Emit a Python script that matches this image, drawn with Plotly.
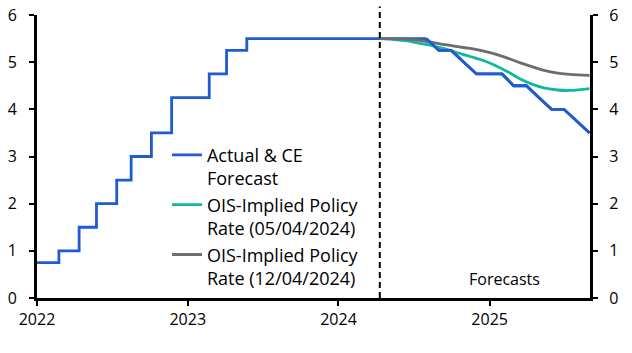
import plotly.graph_objects as go

# Actual policy rate (history, step changes)
hist_dates = ["2022-01-01", "2022-02-23", "2022-04-13", "2022-05-25", "2022-07-13",
              "2022-08-17", "2022-10-05", "2022-11-23", "2023-02-22", "2023-04-05",
              "2023-05-24", "2024-07-31"]
hist_vals = [0.75, 1.0, 1.5, 2.0, 2.5, 3.0, 3.5, 4.25, 4.75, 5.25, 5.5, 5.5]

# CE forecast (monthly)
fc_dates = ["2024-07-31", "2024-08-31", "2024-09-30", "2024-10-31", "2024-11-30",
            "2024-12-31", "2025-01-31", "2025-02-28", "2025-03-31", "2025-04-30",
            "2025-05-31", "2025-06-30", "2025-07-31", "2025-08-31"]
fc_vals = [5.5, 5.25, 5.25, 5.0, 4.75, 4.75, 4.75, 4.5, 4.5, 4.25, 4.0, 4.0, 3.75, 3.5]

# OIS-implied policy rates
ois_dates = ["2024-04-10", "2024-05-15", "2024-06-15", "2024-07-15", "2024-08-15",
             "2024-09-15", "2024-10-15", "2024-11-15", "2024-12-15", "2025-01-15",
             "2025-02-15", "2025-03-15", "2025-04-15", "2025-05-15", "2025-06-15",
             "2025-07-15", "2025-08-31"]
ois_0504 = [5.50, 5.48, 5.45, 5.40, 5.35, 5.28, 5.20, 5.12, 5.04, 4.93, 4.79, 4.65,
            4.53, 4.45, 4.41, 4.40, 4.44]
ois_1204 = [5.50, 5.50, 5.49, 5.46, 5.42, 5.37, 5.33, 5.29, 5.24, 5.17, 5.08, 4.99,
            4.90, 4.82, 4.77, 4.74, 4.72]

BLUE = "#1f5bd1"
TEAL = "#10b7a2"
GREY = "#6d6d6d"
FONT = "Open Sans"

fig = go.Figure()
fig.add_trace(go.Scatter(x=hist_dates, y=hist_vals, mode="lines", line_shape="hv",
                         line=dict(color=BLUE, width=2.8), name="Actual & CE<br>Forecast",
                         legendgroup="a"))
fig.add_trace(go.Scatter(x=fc_dates, y=fc_vals, mode="lines",
                         line=dict(color=BLUE, width=2.8), name="Actual & CE<br>Forecast",
                         legendgroup="a", showlegend=False))
fig.add_trace(go.Scatter(x=ois_dates, y=ois_0504, mode="lines",
                         line=dict(color=TEAL, width=2.8, shape="spline"),
                         name="OIS-Implied Policy<br>Rate (05/04/2024)"))
fig.add_trace(go.Scatter(x=ois_dates, y=ois_1204, mode="lines",
                         line=dict(color=GREY, width=2.8, shape="spline"),
                         name="OIS-Implied Policy<br>Rate (12/04/2024)"))
# mirror for right axis
fig.add_trace(go.Scatter(x=fc_dates, y=fc_vals, mode="lines", yaxis="y2",
                         line=dict(color=BLUE, width=2.8), showlegend=False,
                         hoverinfo="skip"))

fig.add_shape(type="line", xref="x", yref="paper", x0="2024-04-10", x1="2024-04-10",
              y0=0, y1=1.03, line=dict(color="black", width=2, dash="6px,4px"))

fig.add_annotation(x="2025-02-05", y=0.4, xref="x", yref="y", text="Forecasts",
                   showarrow=False, font=dict(family=FONT, size=16, color="black"))

axis_common = dict(showgrid=False, zeroline=False, showline=True, linecolor="black",
                   linewidth=3, ticks="outside", tickcolor="black", tickwidth=2,
                   ticklen=5, automargin=False,
                   tickfont=dict(family=FONT, size=16, color="black"))

fig.update_layout(
    width=632, height=353,
    margin=dict(l=37, r=42, t=15, b=55),
    plot_bgcolor="white", paper_bgcolor="white",
    font=dict(family=FONT, size=16, color="black"),
    xaxis=dict(**axis_common, type="date", range=["2022-01-01", "2025-09-01"],
               dtick="M12", tick0="2022-01-01", tickformat="%Y"),
    yaxis=dict(**axis_common, range=[0, 6], dtick=1, ticklabelstandoff=9),
    yaxis2=dict(**axis_common, range=[0, 6], dtick=1, overlaying="y", side="right",
                anchor="x", matches="y", ticklabelstandoff=8),
    showlegend=True,
    legend=dict(x=0.235, y=0.57, xanchor="left", yanchor="top", bgcolor="rgba(0,0,0,0)",
                font=dict(family=FONT, size=18, color="black"), valign="top",
                tracegroupgap=0, itemwidth=30),
)

fig.write_html("out.html")
